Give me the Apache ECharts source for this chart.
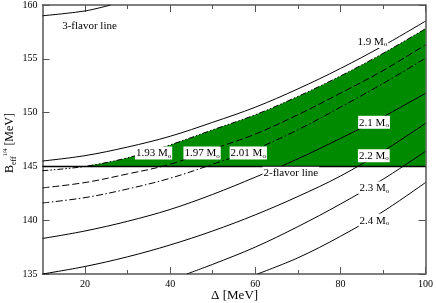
<!DOCTYPE html>
<html><head><meta charset="utf-8">
<script src="https://cdn.jsdelivr.net/npm/echarts@6/dist/echarts.min.js"></script>
<style>html,body{margin:0;padding:0;background:#fff}#c{width:436px;height:303px}</style>
</head><body><div id="c"></div>
<script>
// ---- data ----
const deltaGrid = [10, 20, 30, 40, 50, 60, 70, 80, 90, 100];
const m190 = [145.5, 146.0, 146.8, 147.8, 149.1, 150.5, 152.2, 154.1, 156.2, 158.5];
const m193 = [144.6, 145.0, 145.8, 147.0, 148.4, 149.8, 151.5, 153.4, 155.5, 157.8];
const m197 = [143.0, 143.5, 144.3, 145.2, 146.6, 148.0, 149.8, 151.8, 153.9, 156.3];
const m201 = [141.6, 142.1, 142.9, 143.9, 145.2, 146.6, 148.4, 150.5, 152.7, 155.05];
const m210 = [138.3, 139.0, 139.9, 141.0, 142.4, 144.0, 145.7, 147.6, 149.6, 151.8];
const m220 = [135.0, 135.7, 136.6, 137.7, 139.0, 140.5, 142.2, 144.1, 146.4, 149.0];
const m230X = [43.9, 50, 60, 70, 80, 90, 100];
const m230 = [135.0, 135.9, 137.5, 139.4, 141.5, 143.8, 146.4];
const m240X = [60.5, 70, 80, 90, 100];
const m240 = [135.0, 136.5, 138.5, 140.8, 143.5];
const threeFlavorX = [10, 20, 26];
const threeFlavor = [159.0, 159.45, 160.0];
const twoFlavorY = 145;
const xMajorTicks = [20, 40, 60, 80, 100];
const xMinorTicks = [30, 50, 70, 90];
const massLabels = ['1.9', '1.93', '1.97', '2.01', '2.1', '2.2', '2.3', '2.4'];
const lineLabels = ['3-flavor line', '2-flavor line'];

const pair = (xs, ys) => xs.map((x, i) => [x, ys[i]]);
const FONT = 'Liberation Serif';
const chart = echarts.init(document.getElementById('c'), null, {renderer: 'canvas'});

const greenData = pair(deltaGrid, m193).filter(p => p[1] >= twoFlavorY);

const thin = (type) => ({color: '#000', width: 1, type: type || 'solid'});
function lineSeries(name, data, type, z) {
  return {name, type: 'line', data, showSymbol: false, symbol: 'none', smooth: 0.35,
    lineStyle: thin(type), z: z || 3, silent: true, animation: false};
}
const richMass = {
  a: {fontFamily: FONT, fontSize: 11, color: '#000', lineHeight: 12},
  s: {fontFamily: FONT, fontSize: 7, color: '#000', lineHeight: 7, verticalAlign: 'bottom'}
};
function massMark(text, coord) {
  return {coord, symbolSize: 0, label: {show: true, position: 'inside',
    formatter: '{a|' + text + ' M}{s|o}', backgroundColor: '#fff', padding: [1, 1, 0, 1], rich: richMass}};
}
function textMark(text, coord, bg) {
  return {coord, symbolSize: 0, label: {show: true, position: 'inside', formatter: text,
    fontFamily: FONT, fontSize: 11, color: '#000', backgroundColor: bg ? '#fff' : 'transparent', padding: [1, 1, 0, 1]}};
}

const axisCommon = {type: 'value', min: 10, max: 100, splitLine: {show: false}};
const lineStyleAxis = {color: '#555', width: 1.5};

const option = {
  animation: false,
  backgroundColor: '#fff',
  grid: {left: 42.5, right: 9.5, top: 5, bottom: 29, containLabel: false},
  xAxis: [
    Object.assign({}, axisCommon, {position: 'bottom', axisLine: {show: true, onZero: false, lineStyle: lineStyleAxis},
      axisTick: {inside: true, length: 7, customValues: xMajorTicks, lineStyle: {color: '#555', width: 1}},
      axisLabel: {customValues: xMajorTicks, fontFamily: FONT, fontSize: 10, color: '#000', margin: 5}}),
    Object.assign({}, axisCommon, {position: 'bottom', axisLine: {show: false, onZero: false},
      axisTick: {inside: true, length: 4, customValues: xMinorTicks, lineStyle: {color: '#555', width: 1}},
      axisLabel: {show: false}}),
    Object.assign({}, axisCommon, {position: 'top', axisLine: {show: true, onZero: false, lineStyle: lineStyleAxis},
      axisTick: {inside: true, length: 7, customValues: xMajorTicks, lineStyle: {color: '#555', width: 1}},
      axisLabel: {show: false}}),
    Object.assign({}, axisCommon, {position: 'top', axisLine: {show: false, onZero: false},
      axisTick: {inside: true, length: 4, customValues: xMinorTicks, lineStyle: {color: '#555', width: 1}},
      axisLabel: {show: false}})
  ],
  yAxis: [
    {type: 'value', min: 135, max: 160, interval: 5, position: 'left', splitLine: {show: false},
      axisLine: {show: true, onZero: false, lineStyle: lineStyleAxis},
      axisTick: {inside: true, length: 7, lineStyle: {color: '#555', width: 1}},
      axisLabel: {fontFamily: FONT, fontSize: 10, color: '#000', margin: 5}},
    {type: 'value', min: 135, max: 160, interval: 5, position: 'right', splitLine: {show: false},
      axisLine: {show: true, onZero: false, lineStyle: lineStyleAxis},
      axisTick: {inside: true, length: 7, lineStyle: {color: '#555', width: 1}},
      axisLabel: {show: false}}
  ],
  series: [
    {name: 'allowed', type: 'line', data: greenData, showSymbol: false, symbol: 'none', smooth: 0.35,
      lineStyle: {width: 0}, areaStyle: {color: '#008a00', opacity: 1, origin: twoFlavorY}, z: 1, silent: true},
    lineSeries('3-flavor', pair(threeFlavorX, threeFlavor)),
    lineSeries('1.9', pair(deltaGrid, m190)),
    lineSeries('1.93', pair(deltaGrid, m193), [6, 2, 1.5, 2, 1.5, 2]),
    lineSeries('1.97', pair(deltaGrid, m197), [7, 3]),
    lineSeries('2.01', pair(deltaGrid, m201), [7, 2.5, 1.5, 2.5]),
    lineSeries('2.1', pair(deltaGrid, m210)),
    lineSeries('2.2', pair(deltaGrid, m220)),
    lineSeries('2.3', pair(m230X, m230)),
    lineSeries('2.4', pair(m240X, m240)),
    {name: '2-flavor', type: 'line', data: [[10, twoFlavorY], [100, twoFlavorY]], showSymbol: false, symbol: 'none',
      lineStyle: {color: '#000', width: 1.5}, z: 4, silent: true,
      markPoint: {silent: true, symbol: 'rect', z: 10, data: [
        massMark(massLabels[0], [87.5, 156.6]),
        massMark(massLabels[1], [36.1, 146.25]),
        massMark(massLabels[2], [47.5, 146.25]),
        massMark(massLabels[3], [58.35, 146.25]),
        massMark(massLabels[4], [87.9, 149.1]),
        massMark(massLabels[5], [87.85, 146.0]),
        massMark(massLabels[6], [88.0, 143.0]),
        massMark(massLabels[7], [88.0, 140.0]),
        textMark(lineLabels[0], [21.05, 158.05], false),
        textMark(lineLabels[1], [68.35, 144.4], true)
      ]}}
  ],
  graphic: [
    {type: 'text', x: 234.6, y: 296, style: {text: 'Δ [MeV]', fontFamily: FONT, fontSize: 13, fill: '#000', align: 'center', verticalAlign: 'middle'}},
    {type: 'text', x: 10, y: 143, rotation: Math.PI / 2, style: {
      text: '{b|B}{s|eff}{p|1/4}{b| [MeV]}', align: 'center', verticalAlign: 'middle',
      rich: {
        b: {fontFamily: FONT, fontSize: 12, fill: '#000', lineHeight: 16},
        s: {fontFamily: FONT, fontSize: 8, fill: '#000', lineHeight: 8, verticalAlign: 'bottom'},
        p: {fontFamily: FONT, fontSize: 6, fill: '#000', lineHeight: 6, verticalAlign: 'top'}
      }}}
  ]
};
chart.setOption(option);
</script></body></html>
